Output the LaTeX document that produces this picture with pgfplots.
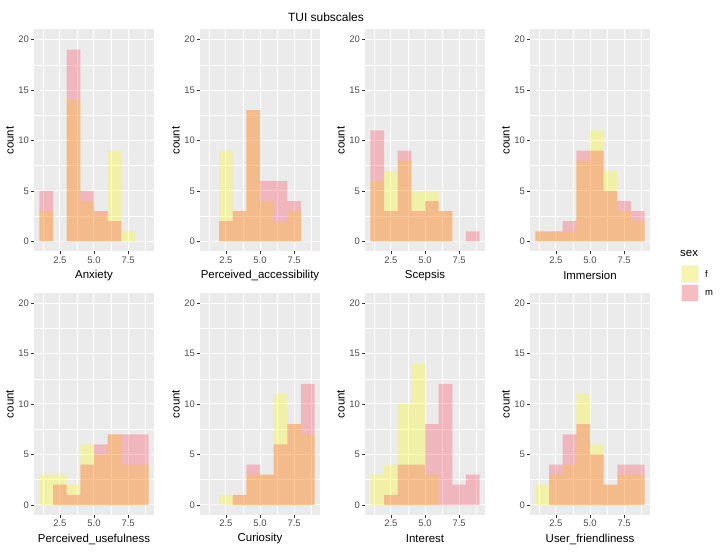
\documentclass[border=0pt]{standalone}
\usepackage{pgfplots}
\pgfplotsset{compat=1.18}
\usepackage{pgfplotstable}
\usepackage{fontspec}
\setmainfont{Liberation Sans}
\definecolor{ggbg}{HTML}{EBEBEB}
\definecolor{ggkey}{HTML}{F2F2F2}
\definecolor{gg30}{HTML}{4D4D4D}
\definecolor{gg20}{HTML}{333333}
\definecolor{fcol}{RGB}{255,255,0}
\definecolor{mcol}{RGB}{255,20,45}
\pgfplotstableread{
x anxf anxm paf pam scf scm imf imm puf pum cuf cum intf intm uff ufm
1 3 5 0 0 6 11 1 1 3 0 0 0 3 0 2 0
2 0 0 9 2 7 3 1 1 3 2 1 0 4 1 3 4
3 14 19 3 3 8 9 1 2 2 1 1 1 10 4 4 7
4 4 5 13 13 5 3 8 9 6 4 3 4 14 4 11 8
5 3 3 4 6 5 4 11 9 5 6 3 3 3 8 6 5
6 9 2 2 6 3 3 7 5 7 7 11 6 0 12 2 2
7 1 0 3 4 0 0 3 4 4 7 8 8 0 2 3 4
8 0 0 0 0 0 1 2 3 4 7 7 12 0 3 3 4
9 0 0 0 0 0 0 0 0 0 0 0 0 0 0 0 0
}\hist
\pgfplotsset{
  ggpanel/.style={
    scale only axis, width=120bp, height=222bp,
    anchor=south west,
    xmin=0.6, xmax=9.4, ymin=-1, ymax=21,
    axis background/.style={fill=ggbg},
    axis line style={draw=none},
    xtick={2.5,5,7.5}, xticklabels={2.5,5.0,7.5},
    ytick={0,5,10,15,20},
    minor xtick={1.25,3.75,6.25,8.75},
    minor ytick={2.5,7.5,12.5,17.5},
    xtick pos=bottom, ytick pos=left,
    grid=both,
    major grid style={white, line width=1bp},
    minor grid style={white, line width=0.5bp},
    tick align=outside,
    major tick length=3bp, minor tick length=0pt,
    tick style={gg20, line width=0.6bp},
    /pgf/number format/assume math mode=true,
    tick label style={font=\fontsize{9.5}{11}\selectfont, text=gg30},
    xticklabel style={anchor=north, inner sep=2bp},
    yticklabel style={anchor=east, inner sep=2bp},
    ylabel={count},
    every axis y label/.style={at={(axis description cs:-0.2,0.5)}, rotate=90, anchor=center, font=\fontsize{11.5}{13}\selectfont},
    every axis x label/.style={at={(axis description cs:0.5,0)}, anchor=center, yshift=-24bp, font=\fontsize{11.5}{13}\selectfont},
  },
  fbar/.style={ybar interval, draw=none, fill=fcol, fill opacity=0.28},
  mbar/.style={ybar interval, draw=none, fill=mcol, fill opacity=0.24},
}
\newcommand\panel[5]{%
  \begin{axis}[ggpanel, at={(#1bp,#2bp)}, xlabel={#3}]
    \addplot[fbar] table[x=x, y=#4] {\hist};
    \addplot[mbar] table[x=x, y=#5] {\hist};
  \end{axis}}
\begin{document}
\begin{tikzpicture}[x=1bp, y=1bp]
\useasboundingbox (0bp,0bp) rectangle (720bp,558bp);
\panel{34}{306.5}{Anxiety}{anxf}{anxm}
\panel{200}{306.5}{Perceived\_accessibility}{paf}{pam}
\panel{365}{306.5}{Scepsis}{scf}{scm}
\panel{530}{306.5}{Immersion}{imf}{imm}
\panel{34}{43}{Perceived\_usefulness}{puf}{pum}
\panel{200}{43}{Curiosity}{cuf}{cum}
\panel{365}{43}{Interest}{intf}{intm}
\panel{530}{43}{User\_friendliness}{uff}{ufm}
\node[font=\fontsize{12}{14}\selectfont] at (326bp,541bp) {TUI subscales};
\node[anchor=west, font=\fontsize{11.5}{13}\selectfont, inner sep=0pt] at (680bp,305bp) {sex};
\fill[ggkey] (681bp,275bp) rectangle (699bp,293bp);
\fill[fcol, fill opacity=0.28] (682bp,276bp) rectangle (698bp,292bp);
\fill[ggkey] (681bp,256bp) rectangle (699bp,274bp);
\fill[mcol, fill opacity=0.24] (682bp,257bp) rectangle (698bp,273bp);
\node[anchor=west, font=\fontsize{9.5}{11}\selectfont, inner sep=0pt] at (705bp,284bp) {f};
\node[anchor=west, font=\fontsize{9.5}{11}\selectfont, inner sep=0pt] at (705bp,265bp) {m};
\end{tikzpicture}
\end{document}
